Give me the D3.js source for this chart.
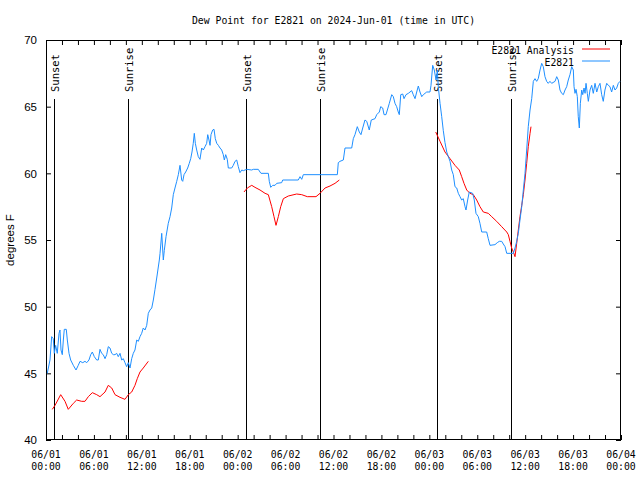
<!DOCTYPE html>
<html>
<head>
<meta charset="utf-8">
<script src="https://cdn.jsdelivr.net/npm/d3@7/dist/d3.min.js"></script>
<style>
html,body{margin:0;padding:0;background:#fff;}
svg{display:block;}
</style>
</head>
<body>
<svg id="chart" width="640" height="480"></svg>
<script>
// ---- data (hours since 2024-06-01 00:00 UTC) ----
const obsHours = [0.16,0.5,0.71,0.91,1.04,1.21,1.41,1.63,1.75,1.88,2.04,2.17,2.29,2.54,2.67,2.88,3.09,3.42,3.76,4.04,4.26,4.6,4.88,5.1,5.38,5.6,5.8,6.05,6.35,6.55,6.76,6.97,7.17,7.39,7.6,7.8,8.01,8.23,8.43,8.64,8.85,9.05,9.27,9.48,9.68,9.89,10.1,10.31,10.52,10.73,10.93,11.14,11.36,11.56,11.77,11.98,12.18,12.4,12.61,12.81,13.02,13.24,13.44,13.65,13.9,14.19,14.28,14.49,14.69,14.81,15.03,15.31,15.53,15.74,15.94,16.15,16.37,16.57,16.78,16.99,17.12,17.28,17.49,17.74,17.94,18.12,18.28,18.44,18.57,18.7,18.87,19.07,19.28,19.5,19.7,19.91,20.12,20.25,20.41,20.54,20.66,20.87,21.04,21.2,21.38,21.58,21.79,22.0,22.2,22.33,22.5,22.7,22.83,23.25,23.45,23.67,23.88,24.08,24.29,24.51,24.71,25.13,25.76,25.96,26.58,26.8,26.92,27.84,27.96,28.14,28.39,28.68,28.89,29.51,29.64,31.59,31.81,32.02,32.22,36.48,36.6,36.81,37.23,37.44,38.28,38.48,38.69,38.98,39.23,39.44,39.66,39.94,40.16,40.48,40.73,41.2,41.41,41.74,41.91,42.16,42.33,42.57,42.99,43.29,43.49,43.7,43.91,44.11,44.24,44.42,44.67,44.83,45.08,45.37,45.58,45.79,45.99,46.21,46.42,46.62,46.83,47.05,47.25,47.67,48.08,48.21,48.42,48.62,48.84,49.0,49.12,49.34,49.55,49.75,49.96,50.18,50.38,50.59,50.8,51.0,51.21,51.43,51.63,51.84,52.05,52.25,52.47,52.59,52.8,53.0,53.43,53.63,53.84,54.13,54.34,54.56,55.18,55.38,55.6,56.22,56.51,56.76,57.06,57.26,57.48,57.69,58.52,58.73,58.94,59.14,59.35,59.57,59.77,59.98,60.19,60.39,60.61,60.82,61.02,61.23,61.44,61.64,61.86,62.07,62.27,62.48,62.69,62.89,63.1,63.32,63.74,63.95,64.15,64.36,64.57,64.78,64.99,65.2,65.4,65.61,65.83,66.03,66.12,66.24,66.37,66.53,66.65,66.78,66.91,67.08,67.21,67.37,67.5,67.62,67.78,67.91,68.12,68.33,68.53,68.75,68.96,69.16,69.37,69.58,69.78,69.99,70.21,70.41,70.62,70.83,71.04,71.25,71.46,71.66,71.87];
const obsValues = [45.0,46.0,47.75,47.6,46.5,47.1,46.5,48.0,48.25,46.75,46.4,47.5,48.3,48.3,47.5,46.5,46.0,45.6,45.25,45.6,45.9,45.8,45.9,45.8,46.0,46.4,46.6,46.25,46.0,46.0,46.8,46.5,46.4,46.1,46.4,47.0,46.9,46.5,46.4,46.4,46.5,46.25,46.5,46.0,46.1,45.8,45.5,45.8,45.4,46.1,46.5,46.75,47.5,47.4,47.75,48.0,48.4,48.25,48.6,49.5,49.75,49.9,50.5,51.3,52.3,53.5,54.0,55.5,53.5,54.2,55.25,56.25,56.75,57.4,58.4,58.9,59.4,59.9,60.6,59.5,59.4,59.9,60.1,60.4,60.75,61.1,61.6,62.25,63.0,62.25,61.75,61.25,61.05,61.9,61.75,62.0,62.25,62.9,62.5,62.1,62.9,63.25,63.3,62.6,62.25,62.1,61.9,61.75,61.4,61.0,61.4,61.05,60.4,60.4,60.6,60.9,61.0,60.5,60.05,60.25,60.2,60.3,60.25,60.3,60.3,60.1,60.0,60.0,59.4,58.95,59.1,59.1,59.25,59.3,59.5,59.5,59.75,59.55,59.9,59.9,60.8,60.9,61.0,61.9,61.9,62.6,62.9,63.5,63.1,62.9,63.4,64.0,63.9,63.25,64.0,64.1,64.4,64.6,65.0,64.9,64.4,64.4,65.25,65.9,65.75,65.25,65.0,64.6,64.4,65.9,65.95,65.6,65.9,66.0,66.1,66.2,65.9,65.6,66.1,66.55,66.1,65.75,65.9,66.1,66.1,66.6,68.1,67.75,67.0,67.75,66.5,65.25,64.25,63.2,62.3,61.6,61.25,60.9,60.25,59.9,59.0,58.9,58.5,58.25,58.0,58.1,57.5,57.25,58.0,58.6,58.5,58.0,57.0,56.75,56.25,55.6,55.6,55.1,54.6,54.65,54.8,54.9,54.9,54.7,54.5,54.0,54.0,54.4,54.9,55.5,56.5,57.5,58.75,60.0,61.75,63.5,64.75,65.6,66.9,67.1,66.9,67.1,67.75,68.25,68.0,67.25,66.9,66.75,66.9,66.75,66.9,67.25,67.0,66.25,66.0,65.9,66.25,66.5,67.0,67.4,68.0,67.75,66.5,66.0,66.3,65.75,64.25,63.4,65.25,66.25,65.9,66.4,66.0,66.75,66.0,65.4,66.25,66.6,66.0,66.75,66.1,66.5,66.75,65.9,65.4,66.25,66.75,66.6,66.5,66.1,66.6,66.25,66.4,66.75,66.9];

const anaHours = [0.79,1.13,1.84,2.38,2.79,3.42,3.84,4.47,4.88,5.3,5.8,6.35,6.76,7.39,7.8,8.23,8.64,9.27,9.89,10.31,10.73,11.14,11.43,11.77,12.18,12.81,
  18.0,
  24.79,25.21,25.76,26.17,26.8,27.43,27.84,28.26,28.55,28.8,29.09,29.39,29.72,30.34,31.39,32.02,32.72,33.81,34.31,34.94,35.56,36.19,36.73,
  42.0,
  48.8,49.34,49.96,50.59,51.21,51.75,52.05,52.34,52.68,53.09,53.51,53.93,54.34,54.76,55.38,55.81,56.43,57.06,57.69,57.89,58.1,58.31,58.52,58.73,58.94,59.14,59.35,59.57,59.77,59.98,60.19,60.39,60.61,60.73];
const anaValues = [42.3,42.6,43.4,42.9,42.3,42.75,43.0,42.9,42.9,43.25,43.55,43.4,43.25,43.6,44.1,43.9,43.4,43.2,43.05,43.4,43.6,44.1,44.6,45.1,45.4,45.9,
  null,
  58.6,58.9,59.1,58.95,58.75,58.5,58.4,57.5,56.75,56.1,56.75,57.5,58.1,58.3,58.45,58.4,58.25,58.25,58.5,58.9,59.05,59.25,59.5,
  null,
  63.1,62.4,61.6,61.1,60.6,60.25,59.75,59.25,58.75,58.5,58.4,58.0,57.5,57.1,57.0,56.75,56.4,56.0,55.6,55.4,54.9,54.4,54.1,53.75,54.75,55.75,56.75,57.6,58.4,59.5,60.75,62.0,63.0,63.5];

const sunHours = [1.0, 10.27, 25.04, 34.31, 48.96, 58.23];
const sunLabels = ["Sunset","Sunrise","Sunset","Sunrise","Sunset","Sunrise"];
const yTicks = [40,45,50,55,60,65,70];
const seriesNames = ["E2821 Analysis","E2821"];
const seriesColors = ["#ff0000","#1e8fff"];
const titleText = "Dew Point for E2821 on 2024-Jun-01 (time in UTC)";
const yLabel = "degrees F";

// ---- layout ----
const W = 640, H = 480;
const m = {left:46, right:19, top:40, bottom:40};
const x0 = m.left, x1 = W - m.right, y0 = m.top, y1 = H - m.bottom;
const base = Date.UTC(2024,5,1,0,0,0);
const toDate = h => new Date(base + h*3600000);

const svg = d3.select("#chart");
const mono = "'DejaVu Sans Mono','Liberation Mono',monospace";
const sans = "'Liberation Sans','DejaVu Sans',sans-serif";

const x = d3.scaleUtc().domain([toDate(0), toDate(72)]).range([x0, x1]);
const y = d3.scaleLinear().domain([40,70]).range([y1, y0]);

svg.append("defs").append("clipPath").attr("id","plotclip")
  .append("rect").attr("x",x0).attr("y",y0).attr("width",x1-x0).attr("height",y1-y0);

// title
svg.append("text").attr("x",(x0+x1)/2).attr("y",24).attr("text-anchor","middle")
  .attr("font-family",mono).attr("font-size","9.8px").attr("fill","#000").text(titleText);

// y label
svg.append("text").attr("transform","translate(14,"+((y0+y1)/2)+") rotate(-90)")
  .attr("text-anchor","middle").attr("font-family",sans).attr("font-size","11.5px").text(yLabel);

// axes
const tickLen = 5;
const hourTicks = d3.utcHour.every(2).range(toDate(0), toDate(72.01));
const gx = svg.append("g").attr("transform","translate(0,"+y1+")")
  .call(d3.axisBottom(x).tickValues(hourTicks).tickSizeInner(-tickLen).tickSizeOuter(0).tickFormat(""));
const gxt = svg.append("g").attr("transform","translate(0,"+y0+")")
  .call(d3.axisTop(x).tickValues(hourTicks).tickSizeInner(-tickLen).tickSizeOuter(0).tickFormat(""));
const gy = svg.append("g").attr("transform","translate("+x0+",0)")
  .call(d3.axisLeft(y).tickValues(yTicks).tickSizeInner(-tickLen).tickSizeOuter(0).tickPadding(9).tickFormat(d3.format("d")));
const gyr = svg.append("g").attr("transform","translate("+x1+",0)")
  .call(d3.axisRight(y).tickValues(yTicks).tickSizeInner(-tickLen).tickSizeOuter(0).tickFormat(""));
[gx,gxt,gy,gyr].forEach(g=>{ g.select(".domain").remove(); g.selectAll("line").attr("stroke","#000"); });
gy.selectAll("text").attr("font-family",sans).attr("font-size","11.5px").attr("fill","#000");

// x labels (every 6 hours, two lines)
const labTicks = d3.utcHour.every(6).range(toDate(0), toDate(72.01));
const fmtD = d3.utcFormat("%m/%d"), fmtT = d3.utcFormat("%H:%M");
const xl = svg.append("g").attr("font-family",mono).attr("font-size","9.8px").attr("fill","#000");
labTicks.forEach(d=>{
  const t = xl.append("text").attr("x",x(d)).attr("y",458).attr("text-anchor","middle");
  t.append("tspan").attr("x",x(d)).attr("y",458).text(fmtD(d));
  t.append("tspan").attr("x",x(d)).attr("y",470).text(fmtT(d));
});

// frame
svg.append("rect").attr("x",x0+0.5).attr("y",y0+0.5).attr("width",x1-x0-1).attr("height",y1-y0-1)
  .attr("fill","none").attr("stroke","#000").attr("stroke-width",1);

// sunrise/sunset lines
const sg = svg.append("g");
sunHours.forEach((h,i)=>{
  const xx = Math.round(x(toDate(h)))+0.5;
  sg.append("line").attr("x1",xx).attr("x2",xx).attr("y1",99).attr("y2",y1).attr("stroke","#000").attr("stroke-width",1);
  sg.append("text").attr("transform","translate("+(xx+4)+",92) rotate(-90)")
    .attr("text-anchor","start").attr("font-family",mono).attr("font-size","10.5px").attr("fill","#000").text(sunLabels[i]);
});

// lines
const plot = svg.append("g").attr("clip-path","url(#plotclip)");
const line = d3.line().defined(d=>d[1]!==null).x(d=>x(toDate(d[0]))).y(d=>y(d[1]));
const anaData = anaHours.map((h,i)=>[h,anaValues[i]]);
const obsData = obsHours.map((h,i)=>[h,obsValues[i]]);
plot.append("path").datum(anaData).attr("d",line).attr("fill","none").attr("stroke",seriesColors[0]).attr("stroke-width",1);
plot.append("path").datum(obsData).attr("d",line).attr("fill","none").attr("stroke",seriesColors[1]).attr("stroke-width",1);

// legend
const lg = svg.append("g").attr("font-family",mono).attr("font-size","9.8px").attr("fill","#000");
seriesNames.forEach((n,i)=>{
  const yy = 50 + i*12;
  lg.append("text").attr("x",574).attr("y",yy+3.5).attr("text-anchor","end").text(n);
  lg.append("line").attr("x1",582).attr("x2",610).attr("y1",yy-1).attr("y2",yy-1).attr("stroke",seriesColors[i]).attr("stroke-width",1);
});
</script>
</body>
</html>
